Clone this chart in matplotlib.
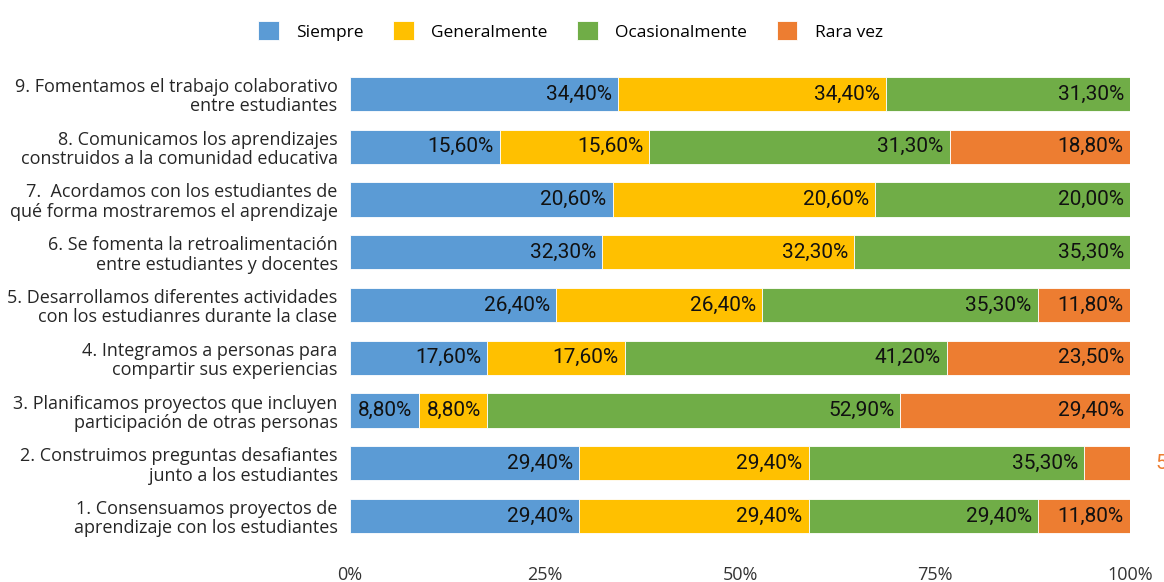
import matplotlib
matplotlib.use("Agg")
import matplotlib.pyplot as plt
import numpy as np

# ── Datos ────────────────────────────────────────────────────────────────────
categorias = [
    "1. Consensuamos proyectos de\naprendizaje con los estudiantes",
    "2. Construimos preguntas desafiantes\njunto a los estudiantes",
    "3. Planificamos proyectos que incluyen\nparticipación de otras personas",
    "4. Integramos a personas para\ncompartir sus experiencias",
    "5. Desarrollamos diferentes actividades\ncon los estudianres durante la clase",
    "6. Se fomenta la retroalimentación\nentre estudiantes y docentes",
    "7.  Acordamos con los estudiantes de\nqué forma mostraremos el aprendizaje",
    "8. Comunicamos los aprendizajes\nconstruidos a la comunidad educativa",
    "9. Fomentamos el trabajo colaborativo\nentre estudiantes",
]
siempre        = [29.4, 29.4, 8.8, 17.6, 26.4, 32.3, 20.6, 15.6, 34.4]
generalmente   = [29.4, 29.4, 8.8, 17.6, 26.4, 32.3, 20.6, 15.6, 34.4]
ocasionalmente = [29.4, 35.3, 52.9, 41.2, 35.3, 35.3, 20.0, 31.3, 31.3]
rara_vez       = [11.8, 5.9, 29.4, 23.5, 11.8, 0.0, 0.0, 18.8, 0.0]

series = ["Siempre", "Generalmente", "Ocasionalmente", "Rara vez"]
colores = ["#5B9BD5", "#FFC000", "#70AD47", "#ED7D31"]


def fmt(v):
    return f"{v:.2f}".replace(".", ",") + "%"


def main():
    datos = np.array([siempre, generalmente, ocasionalmente, rara_vez])
    totales = datos.sum(axis=0)
    norm = datos / totales * 100

    fig = plt.figure(figsize=(11.64, 5.82), dpi=100)
    ax = fig.add_axes([0.3007, 0.068, 0.6701, 0.816])

    y = np.arange(len(categorias))
    left = np.zeros(len(categorias))
    for k, (nombre, color) in enumerate(zip(series, colores)):
        vals = norm[k]
        ax.barh(y, vals, left=left, height=0.65, color=color,
                edgecolor="white", linewidth=0.6, label=nombre)
        for i in range(len(y)):
            if datos[k, i] <= 0:
                continue
            end = left[i] + vals[i]
            if categorias[i].startswith("2.") and nombre == "Rara vez":
                # etiqueta fuera de la barra (se corta en el borde)
                ax.text(103.2, y[i], fmt(datos[k, i]), ha="left", va="center",
                        fontsize=15, family="Roboto", color=color)
            else:
                ax.text(end - 0.8, y[i], fmt(datos[k, i]), ha="right",
                        va="center", fontsize=15, family="Roboto",
                        color="#111111")
        left += vals

    ax.set_xlim(0, 100)
    ax.set_ylim(-0.5, len(categorias) - 0.5)
    ax.set_yticks(y)
    ax.set_yticklabels(categorias, fontsize=13, family="Open Sans",
                       color="#262626", linespacing=1.1)
    ax.set_xticks([0, 25, 50, 75, 100])
    ax.set_xticklabels(["0%", "25%", "50%", "75%", "100%"], fontsize=13,
                       family="Open Sans", color="#333333")
    ax.tick_params(axis="both", length=0)
    ax.tick_params(axis="x", pad=17)
    ax.tick_params(axis="y", pad=9)
    for s in ax.spines.values():
        s.set_visible(False)

    fig.legend(loc="upper center", bbox_to_anchor=(0.49, 0.99), ncol=4,
               frameon=False, handlelength=1.2, handleheight=1.3,
               columnspacing=1.7, handletextpad=1.0,
               prop={"family": "Open Sans", "size": 12.5})

    fig.savefig("out.png", dpi=100)


if __name__ == "__main__":
    main()
